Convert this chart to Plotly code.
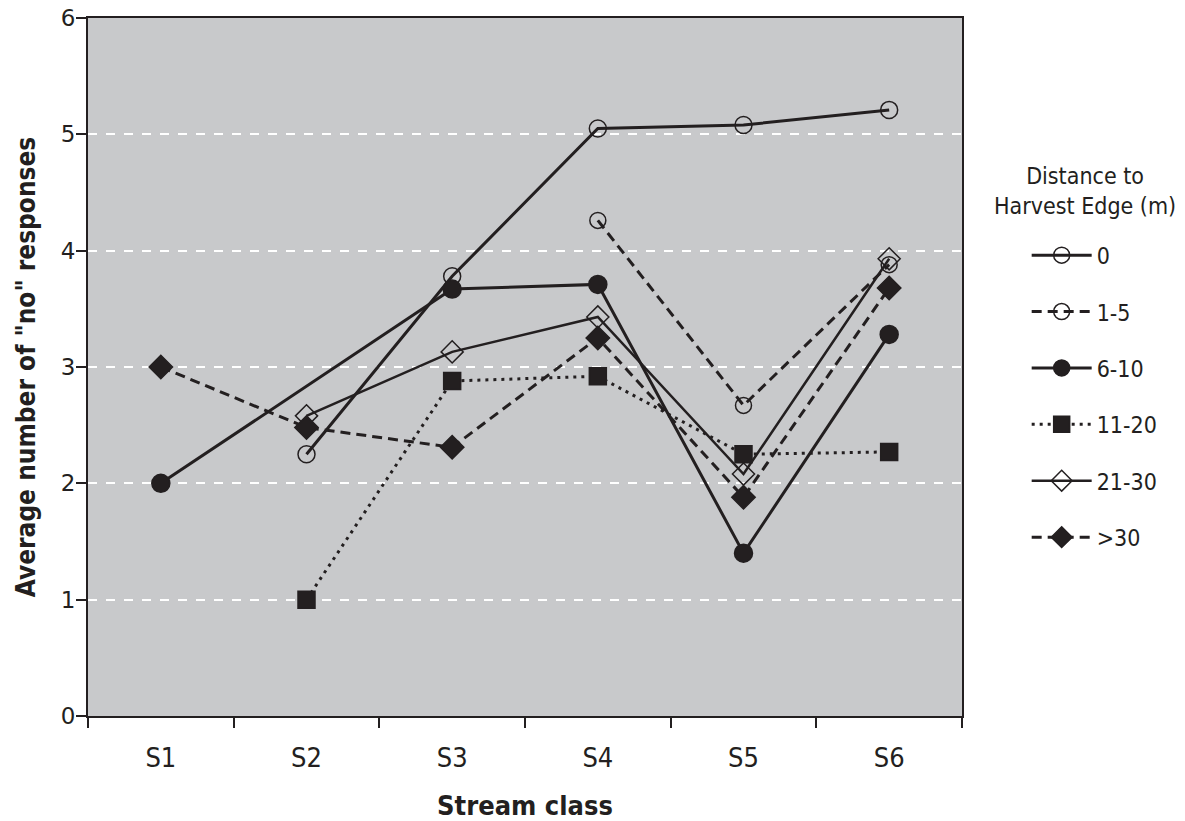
import plotly.graph_objects as go

categories = ["S1", "S2", "S3", "S4", "S5", "S6"]
series_names = ["0", "1-5", "6-10", "11-20", "21-30", ">30"]
v_0 = [None, 2.25, 3.78, 5.05, 5.08, 5.21]
v_1_5 = [None, None, None, 4.26, 2.67, 3.88]
v_6_10 = [2.00, None, 3.67, 3.71, 1.40, 3.28]
v_11_20 = [None, 1.00, 2.88, 2.92, 2.25, 2.27]
v_21_30 = [None, 2.58, 3.13, 3.43, 2.08, 3.93]
v_gt30 = [3.00, 2.48, 2.31, 3.25, 1.88, 3.68]
y_ticks = [0, 1, 2, 3, 4, 5, 6]

INK = "#231F20"
BG = "#C8C9CB"
COND = "DejaVu Sans Condensed"
SANS = "DejaVu Sans"

styles = [
    (v_0, "solid", "circle-open", 17, 3),
    (v_1_5, "10px,6px", "circle-open", 16, 3),
    (v_6_10, "solid", "circle", 18, 3),
    (v_11_20, "3px,5px", "square", 17, 3),
    (v_21_30, "solid", "diamond-open", 17, 2.5),
    (v_gt30, "10px,6px", "diamond", 18, 3),
]

fig = go.Figure()
for name, (vals, dash, sym, size, lw) in zip(series_names, styles):
    fig.add_trace(go.Scatter(
        x=categories, y=vals, name=name, mode="lines+markers",
        connectgaps=True, legendgroup=name,
        line=dict(color=INK, width=lw, dash=dash),
        marker=dict(symbol=sym, size=size, color=INK,
                    line=dict(color=INK, width=1.5)),
    ))

fig.add_annotation(
    text="Distance to<br>Harvest Edge (m)", xref="paper", yref="paper",
    x=1.141, y=0.752, xanchor="center", yanchor="middle", showarrow=False,
    font=dict(family=COND, size=23, color=INK), align="center",
)

fig.update_layout(
    width=1185, height=821,
    margin=dict(l=88, r=223, t=18, b=105),
    paper_bgcolor="white", plot_bgcolor=BG,
    font=dict(family=COND, color=INK, size=20),
    legend=dict(
        x=1.074, xanchor="left", y=0.691, yanchor="top",
        font=dict(family=COND, size=23, color=INK),
        tracegroupgap=23.5, itemwidth=60,
        bgcolor="rgba(0,0,0,0)",
    ),
    xaxis=dict(
        type="category", categoryorder="array", categoryarray=categories,
        range=[-0.5, 5.5], tickson="boundaries",
        ticks="outside", ticklen=10, tickcolor=INK, tickwidth=1.5,
        showline=True, linecolor=INK, linewidth=2, mirror=True,
        showgrid=False, automargin=False,
        tickfont=dict(family=COND, size=27, color=INK),
        ticklabelstandoff=17,
        title=dict(text="<b>Stream class</b>", standoff=26,
                   font=dict(family=COND, size=27, color=INK)),
    ),
    yaxis=dict(
        range=[0, 6], tickvals=y_ticks,
        ticks="outside", ticklen=10, tickcolor=INK, tickwidth=1.5,
        showline=True, linecolor=INK, linewidth=2, mirror=True,
        showgrid=True, gridcolor="white", gridwidth=1.5, griddash="dash",
        zeroline=False, automargin=False, ticklabeloverflow="allow",
        tickfont=dict(family=SANS, size=23, color=INK),
        ticklabelstandoff=-4,
        title=dict(text="<b>Average number of \"no\" responses</b>", standoff=18,
                   font=dict(family=COND, size=26, color=INK)),
    ),
)

fig.write_html("out.html",
               config={"displayModeBar": False},
               post_script="document.body.style.margin='0px';"
                           "document.body.style.overflow='hidden';")
